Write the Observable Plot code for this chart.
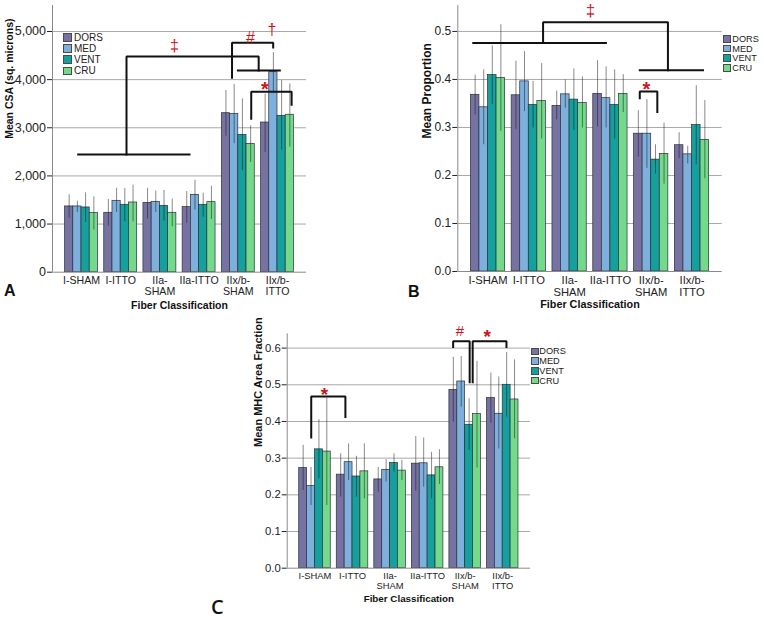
<!DOCTYPE html>
<html>
<head>
<meta charset="utf-8">
<script src="https://cdn.jsdelivr.net/npm/d3@7"></script>
<script src="https://cdn.jsdelivr.net/npm/@observablehq/plot@0.6"></script>
<style>
  html, body { margin: 0; padding: 0; background: #fff; }
  #wrap { position: relative; width: 764px; height: 619px; overflow: hidden; font-family: "Liberation Sans", Arial, sans-serif; color: #222; }
  .pane { position: absolute; }
  .pane svg { overflow: visible; background: transparent; }
  .lg-row { position: absolute; display: flex; align-items: center; white-space: nowrap; color: #222; }
  .lg-sw { box-sizing: border-box; border: 1px solid #4a4a4a; flex: none; }
  .letter { position: absolute; line-height: 1; font-weight: bold; color: #111; }
</style>
</head>
<body>
<div id="wrap"></div>
<script>
// ---------- shared categories ----------
const categories = ["I-SHAM", "I-ITTO", "IIa-SHAM", "IIa-ITTO", "IIx/b-SHAM", "IIx/b-ITTO"];
const categoryLabels = ["I-SHAM", "I-ITTO", "IIa-\nSHAM", "IIa-ITTO", "IIx/b-\nSHAM", "IIx/b-\nITTO"];
const series = ["DORS", "MED", "VENT", "CRU"];
const seriesColors = ["#7673a3", "#7db0dd", "#14a09c", "#73d98b"];
const xTitle = "Fiber Classification";

// ---------- Panel A: Mean CSA (rows = series DORS, MED, VENT, CRU) ----------
const csaMean = [
  [1366, 1234, 1441, 1352, 3303, 3109],
  [1366, 1483, 1462, 1607, 3290, 4155],
  [1345, 1400, 1379, 1400, 2853, 3248],
  [1228, 1448, 1234, 1455, 2666, 3270]
];
const csaLow = [
  [1117, 959, 1103, 1014, 2825, 2490],
  [1241, 1241, 1241, 1290, 2670, 3720],
  [1034, 1048, 1062, 1145, 2110, 2540],
  [876, 1048, 945, 1097, 2280, 2600]
];
const csaHigh = [
  [1607, 1510, 1745, 1676, 3774, 3700],
  [1476, 1745, 1683, 1910, 3900, 4560],
  [1648, 1738, 1697, 1641, 3600, 3980],
  [1566, 1807, 1517, 1786, 3040, 3910]
];
const csaTicks = [0, 1000, 2000, 3000, 4000, 5000];
const csaBrackets = [
  {id: "a1", pts: [[-0.085, 2445], [2.755, 2445]]},
  {id: "a2", pts: [[1.148, 2445], [1.148, 4480], [4.52, 4480], [4.52, 4190]]},
  {id: "a3", pts: [[3.99, 4190], [5.06, 4190]]},
  {id: "a4", pts: [[3.84, 4040], [3.84, 4765], [4.89, 4765], [4.89, 4670]]},
  {id: "a5", pts: [[4.33, 3190], [4.33, 3750], [5.36, 3750], [5.36, 3480]]}
];
const csaSymbols = [
  {t: "‡", x: 2.37, y: 4710},
  {t: "#", x: 4.31, y: 4861},
  {t: "†", x: 4.86, y: 5035},
  {t: "*", x: 4.68, y: 3899}
];

// ---------- Panel B: Mean Proportion ----------
const propMean = [
  [0.368, 0.367, 0.345, 0.370, 0.287, 0.263],
  [0.342, 0.396, 0.369, 0.361, 0.287, 0.244],
  [0.409, 0.347, 0.358, 0.347, 0.233, 0.305],
  [0.403, 0.355, 0.351, 0.370, 0.245, 0.274]
];
const propLow = [
  [0.326, 0.296, 0.316, 0.301, 0.238, 0.235],
  [0.264, 0.333, 0.340, 0.299, 0.215, 0.224],
  [0.348, 0.299, 0.294, 0.276, 0.203, 0.222],
  [0.292, 0.276, 0.299, 0.331, 0.182, 0.193]
];
const propHigh = [
  [0.409, 0.438, 0.376, 0.439, 0.335, 0.289],
  [0.420, 0.458, 0.399, 0.426, 0.358, 0.261],
  [0.470, 0.396, 0.422, 0.420, 0.264, 0.387],
  [0.514, 0.433, 0.405, 0.410, 0.309, 0.356]
];
const propTicks = [0, 0.1, 0.2, 0.3, 0.4, 0.5];
const propBrackets = [
  {id: "b1", pts: [[-0.36, 0.476], [2.89, 0.476]]},
  {id: "b2", pts: [[1.35, 0.476], [1.35, 0.519], [4.41, 0.519], [4.41, 0.419]]},
  {id: "b3", pts: [[3.72, 0.419], [5.27, 0.419]]},
  {id: "b4", pts: [[3.72, 0.361], [3.72, 0.375], [4.15, 0.375], [4.15, 0.332]]}
];
const propSymbols = [
  {t: "‡", x: 2.51, y: 0.544},
  {t: "*", x: 3.88, y: 0.389}
];

// ---------- Panel C: Mean MHC Area Fraction ----------
const mhcMean = [
  [0.273, 0.255, 0.242, 0.285, 0.486, 0.464],
  [0.224, 0.289, 0.268, 0.286, 0.509, 0.421],
  [0.324, 0.250, 0.287, 0.253, 0.391, 0.500],
  [0.318, 0.264, 0.266, 0.275, 0.420, 0.460]
];
const mhcLow = [
  [0.212, 0.194, 0.207, 0.210, 0.398, 0.395],
  [0.171, 0.239, 0.235, 0.221, 0.439, 0.325],
  [0.244, 0.194, 0.262, 0.189, 0.321, 0.412],
  [0.171, 0.189, 0.239, 0.228, 0.273, 0.353]
];
const mhcHigh = [
  [0.335, 0.312, 0.275, 0.359, 0.575, 0.532],
  [0.275, 0.339, 0.296, 0.355, 0.577, 0.521],
  [0.405, 0.305, 0.312, 0.316, 0.462, 0.588],
  [0.464, 0.339, 0.294, 0.323, 0.564, 0.568]
];
const mhcTicks = [0, 0.1, 0.2, 0.3, 0.4, 0.5, 0.6];
const mhcBrackets = [
  {id: "c1", pts: [[-0.10, 0.356], [-0.10, 0.468], [0.81, 0.468], [0.81, 0.412]]},
  {id: "c2", pts: [[3.68, 0.603], [3.68, 0.619], [4.12, 0.619], [4.12, 0.507]]},
  {id: "c3", pts: [[4.20, 0.507], [4.20, 0.619], [5.10, 0.619], [5.10, 0.603]]}
];
const mhcSymbols = [
  {t: "*", x: 0.25, y: 0.485},
  {t: "#", x: 3.86, y: 0.645},
  {t: "*", x: 4.59, y: 0.644}
];

// ---------- layout helpers ----------
const FONT = "'Liberation Sans', Arial, sans-serif";
const X_DOMAIN = [-0.74, 5.74];
const BAR = 0.21;
const RED = "#c8161d";

function makeRows(mean, lo, hi) {
  return categories.flatMap((c, ci) => series.map((s, si) => ({
    cat: c, ci, s, pos: ci + (si - 1.5) * BAR,
    v: mean[si][ci], lo: lo[si][ci], hi: hi[si][ci]
  })));
}

function panel(o) {
  const rows = makeRows(o.mean, o.lo, o.hi);
  const catRows = categories.map((c, i) => ({i, label: categoryLabels[i]}));
  const bRows = o.brackets.flatMap(b => b.pts.map(([x, y]) => ({id: b.id, x, y})));
  const stars = o.symbols.filter(d => d.t === "*");
  const others = o.symbols.filter(d => d.t !== "*");
  return Plot.plot({
    width: o.width, height: o.height,
    marginLeft: o.mL, marginRight: o.mR, marginTop: o.mT, marginBottom: o.mB,
    style: {fontFamily: FONT, fontSize: o.tickFont + "px", color: "#222", background: "transparent", overflow: "visible"},
    x: {domain: X_DOMAIN, axis: null},
    y: {domain: [0, o.yMax], ticks: o.ticks, tickFormat: o.fmt, tickSize: 5, tickPadding: 1.5, label: null},
    color: {domain: series, range: seriesColors},
    marks: [
      Plot.ruleY(o.ticks.filter(t => t > 0), {stroke: "#a8a8a8", strokeWidth: 1}),
      Plot.rect(rows, {x1: d => d.pos - BAR / 2, x2: d => d.pos + BAR / 2, y1: () => 0, y2: "v", fill: "s", stroke: "#2e2e3a", strokeWidth: 0.7}),
      Plot.ruleX(rows, {x: "pos", y1: "lo", y2: "hi", stroke: "#151515", strokeOpacity: 0.5, strokeWidth: 1}),
      Plot.ruleY([0], {stroke: "#8a8a8a", strokeWidth: 1}),
      Plot.ruleX([X_DOMAIN[0]], {stroke: "#8a8a8a", strokeWidth: 1}),
      Plot.text(catRows, {x: "i", y: () => 0, text: "label", lineAnchor: "top", dy: o.xLabDy, fontSize: o.xFont, lineHeight: 1.06, fill: "#222"}),
      Plot.text([o.yLabel], {frameAnchor: "left", rotate: -90, dx: o.yLabDx, dy: o.yLabDy || 0, fontWeight: "bold", fontSize: o.yTitleFont, fill: "#111"}),
      Plot.text([xTitle], {frameAnchor: "bottom", dy: o.xTitleDy, fontWeight: "bold", fontSize: o.xTitleFont, fill: "#111"}),
      Plot.line(bRows, {x: "x", y: "y", z: "id", stroke: "#111", strokeWidth: 2, strokeLinejoin: "miter", strokeLinecap: "square"}),
      Plot.text(others, {x: "x", y: "y", text: "t", fill: RED, fontSize: o.symFont}),
      Plot.text(stars, {x: "x", y: "y", text: "t", fill: RED, fontSize: o.starFont, fontWeight: "bold", dy: o.starFont * 0.26})
    ]
  });
}

const wrap = document.getElementById("wrap");
function place(svg, left, top, w, h) {
  const d = document.createElement("div");
  d.className = "pane";
  d.style.left = left + "px"; d.style.top = top + "px";
  d.style.width = w + "px"; d.style.height = h + "px";
  d.appendChild(svg);
  wrap.appendChild(d);
}
function legend(left, firstCenter, spacing, sw, gap, font) {
  series.forEach((s, i) => {
    const r = document.createElement("div");
    r.className = "lg-row";
    r.style.left = left + "px";
    r.style.top = (firstCenter + i * spacing - spacing / 2) + "px";
    r.style.height = spacing + "px";
    r.style.fontSize = font + "px";
    const b = document.createElement("span");
    b.className = "lg-sw";
    b.style.width = sw + "px"; b.style.height = sw + "px";
    b.style.background = seriesColors[i];
    b.style.marginRight = gap + "px";
    const t = document.createElement("span");
    t.textContent = s;
    r.appendChild(b); r.appendChild(t);
    wrap.appendChild(r);
  });
}
function letter(txt, left, top, size, family, weight) {
  const d = document.createElement("div");
  d.className = "letter";
  d.textContent = txt;
  d.style.left = left + "px"; d.style.top = top + "px";
  d.style.fontSize = size + "px";
  if (family) d.style.fontFamily = family;
  if (weight) d.style.fontWeight = weight;
  wrap.appendChild(d);
}

// Panel A
place(panel({
  mean: csaMean, lo: csaLow, hi: csaHigh, ticks: csaTicks, yMax: 5540, fmt: d3.format(","),
  yLabel: "Mean CSA (sq. microns)", brackets: csaBrackets, symbols: csaSymbols,
  width: 380, height: 300, mL: 52, mR: 74, mT: 5, mB: 28.3,
  tickFont: 12.5, xFont: 10.6, yTitleFont: 10.5, xTitleFont: 10.5, xLabDy: 4, yLabDx: -43, xTitleDy: 36.5,
  symFont: 16, starFont: 20
}), 0, 0, 380, 300);

// Panel B
place(panel({
  mean: propMean, lo: propLow, hi: propHigh, ticks: propTicks, yMax: 0.554, fmt: d3.format(".1f"),
  yLabel: "Mean Proportion", brackets: propBrackets, symbols: propSymbols,
  width: 384, height: 300, mL: 77.3, mR: 42.3, mT: 5, mB: 29,
  tickFont: 12, xFont: 11.2, yTitleFont: 12, xTitleFont: 10.8, xLabDy: 4, yLabDx: -30.6, xTitleDy: 36.5,
  symFont: 17, starFont: 20
}), 380, 0, 384, 300);

// Panel C
place(panel({
  mean: mhcMean, lo: mhcLow, hi: mhcHigh, ticks: mhcTicks, yMax: 0.639, fmt: d3.format(".1f"),
  yLabel: "Mean MHC Area Fraction", brackets: mhcBrackets, symbols: mhcSymbols,
  width: 400, height: 319, mL: 106.7, mR: 50, mT: 33.3, mB: 51.3,
  tickFont: 11.3, xFont: 9.4, yTitleFont: 11, xTitleFont: 9.8, xLabDy: 4, yLabDx: -28.7, yLabDy: -4, xTitleDy: 34,
  symFont: 15, starFont: 19
}), 180, 300, 400, 319);

legend(63.3, 37.5, 11.1, 8.5, 2.2, 10);
legend(723.3, 38.7, 9.8, 7.7, 1.3, 9.2);
legend(531, 351.3, 9.8, 7.5, 0.8, 9.2);

letter("A", 4, 283.2, 16);
letter("B", 408, 284.2, 16);
letter("C", 211, 597.4, 20, "'Open Sans', 'Liberation Sans', sans-serif", "600");
</script>
</body>
</html>
